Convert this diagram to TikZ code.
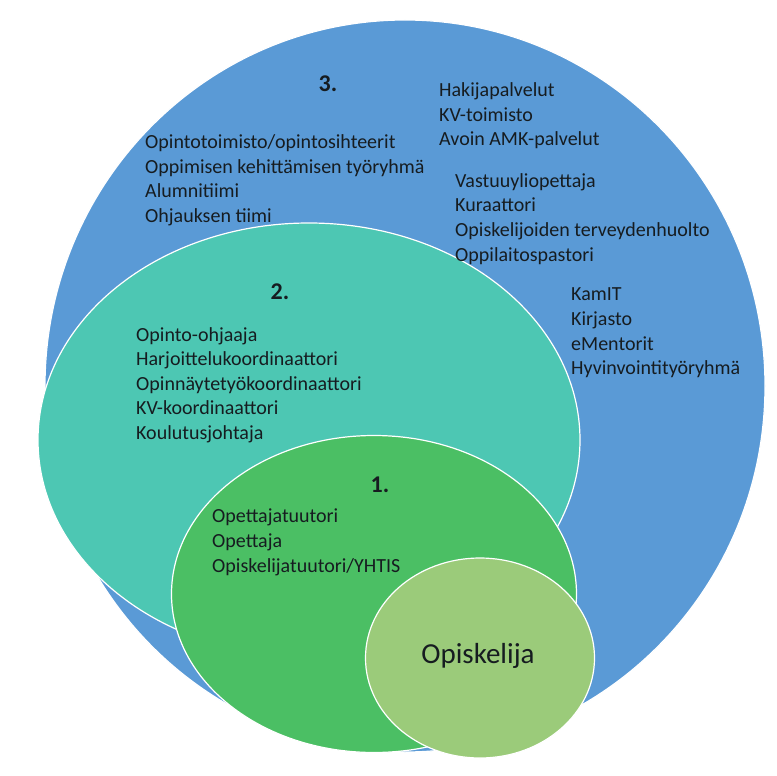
\documentclass[tikz,border=0pt]{standalone}
\usepackage{fontspec}
\setmainfont{Carlito}
\usetikzlibrary{shapes.geometric}

\definecolor{ringblue}{RGB}{90,154,214}
\definecolor{ringteal}{RGB}{77,199,179}
\definecolor{ringgreen}{RGB}{75,191,100}
\definecolor{ringlight}{RGB}{155,203,122}
\definecolor{inktext}{RGB}{22,28,32}

\begin{document}
\begin{tikzpicture}[x=1pt, y=-1pt]
        \tikzstyle{ring}=[ellipse, draw=white, line width=1.2pt, inner sep=0pt]
        % base of a block = baseline of its last line
        \tikzstyle{names}=[anchor=base west, align=left, inner sep=0pt, text=inktext, font=\fontsize{20}{24.6}\selectfont]
        \tikzstyle{level}=[anchor=base, inner sep=0pt, text=inktext, font=\fontsize{24}{26}\selectfont\bfseries]

        \useasboundingbox[fill=white] (0,0) rectangle (777,776);

        % the four rings, outermost first
        \node (r3)  [ring, fill=ringblue,  minimum width=720, minimum height=732] at (405,386) {};
        \node (r2)  [ring, fill=ringteal,  minimum width=542, minimum height=434] at (309,440) {};
        \node (r1)  [ring, fill=ringgreen, minimum width=405, minimum height=317] at (374,594) {};
        \node (stu) [ring, fill=ringlight, minimum width=229, minimum height=200] at (480,658) {};

        % level 3
        \node (l3)   [level] at (328,92) {3.};
        \node (g3a)  [names] at (145,222.4) {Opintotoimisto/opintosihteerit\\Oppimisen kehittämisen työryhmä\\Alumnitiimi\\Ohjauksen tiimi};
        \node (g3b)  [names] at (439,145.8) {Hakijapalvelut\\KV-toimisto\\Avoin AMK-palvelut};
        \node (g3c)  [names] at (455,261.1) {Vastuuyliopettaja\\Kuraattori\\Opiskelijoiden terveydenhuolto\\Oppilaitospastori};
        \node (g3d)  [names] at (571,374.6) {KamIT\\Kirjasto\\eMentorit\\Hyvinvointityöryhmä};

        % level 2
        \node (l2)   [level] at (280,299) {2.};
        \node (g2)   [names] at (136,439.4) {Opinto-ohjaaja\\Harjoittelukoordinaattori\\Opinnäytetyökoordinaattori\\KV-koordinaattori\\Koulutusjohtaja};

        % level 1
        \node (l1)   [level] at (380,492) {1.};
        \node (g1)   [names] at (212,572) {Opettajatuutori\\Opettaja\\Opiskelijatuutori/YHTIS};

        \node (me)   [anchor=base, inner sep=0pt, text=inktext, font=\fontsize{29}{32}\selectfont] at (478,663) {Opiskelija};

    \end{tikzpicture}
\end{document}
